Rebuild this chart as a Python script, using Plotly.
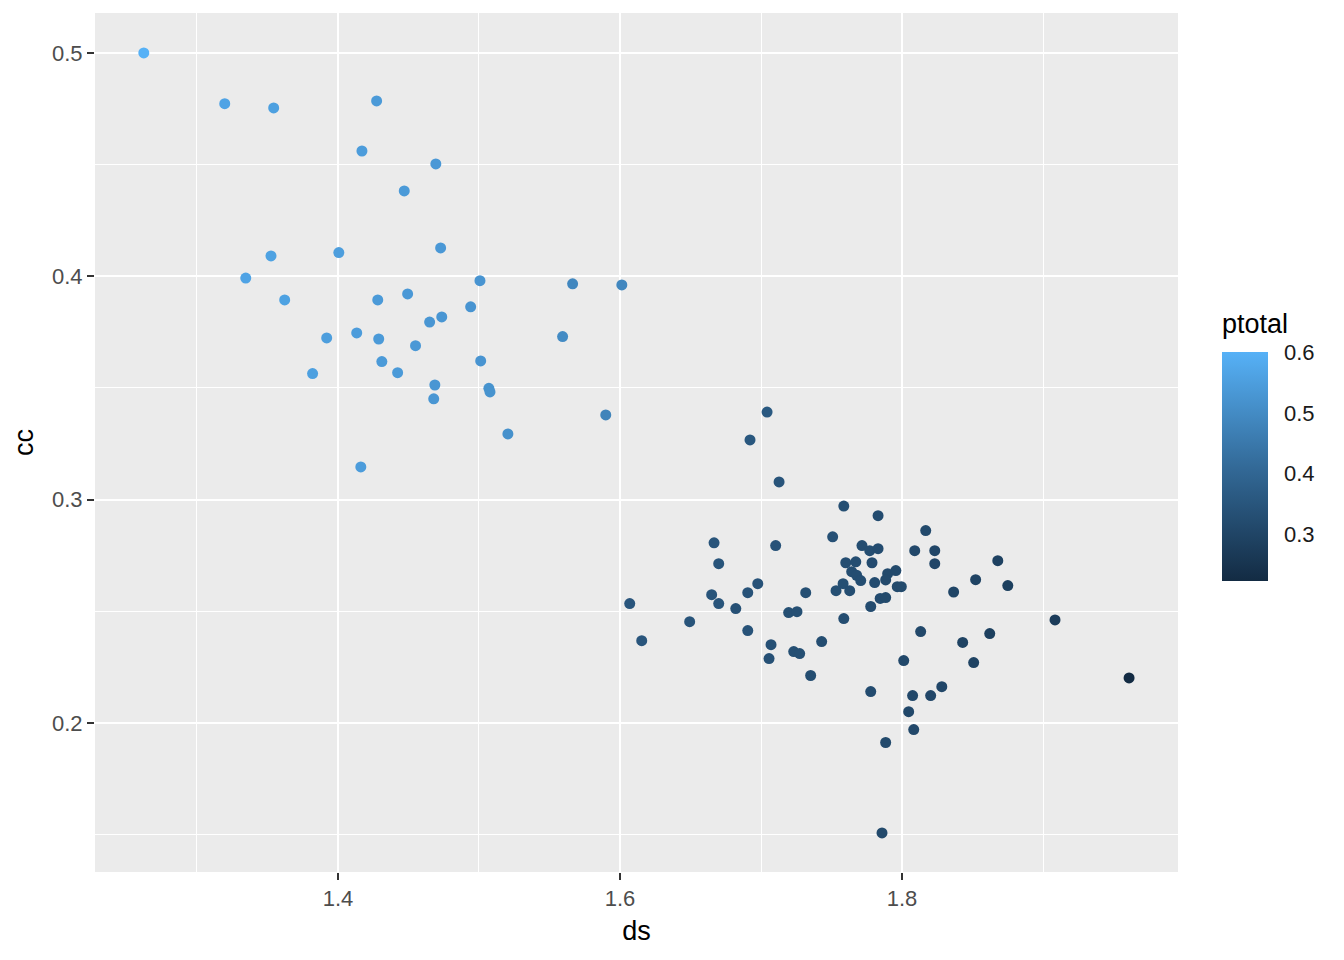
import plotly.graph_objects as go

ds = [1.2623, 1.3197, 1.3544, 1.4274, 1.4170, 1.4694, 1.4470, 1.4728, 1.3525, 1.4006,
      1.3346, 1.5007, 1.5664, 1.6013, 1.4494, 1.4282, 1.3622, 1.4941, 1.4736, 1.4650,
      1.4133, 1.3920, 1.4289, 1.5593, 1.4550, 1.5012, 1.4311, 1.4423, 1.3820, 1.4687,
      1.5070, 1.5078, 1.4679, 1.5899, 1.5205, 1.4162,
      1.7043, 1.6922, 1.7128, 1.7587, 1.7830, 1.7508, 1.8168, 1.6667, 1.7104, 1.7716,
      1.7771, 1.7830, 1.8090, 1.8232, 1.6700, 1.7601, 1.7672, 1.7787, 1.8232, 1.8679,
      1.7643, 1.7678, 1.7707, 1.7898, 1.7956, 1.7884, 1.6977, 1.7582, 1.7806, 1.8522,
      1.8750, 1.7966, 1.7995, 1.6906, 1.6650, 1.7317, 1.7532, 1.7629, 1.8366, 1.7845,
      1.7884, 1.6700, 1.6069, 1.6821, 1.7778, 1.6494, 1.7196, 1.7255, 1.7587, 1.9085,
      1.6154, 1.6906, 1.7430, 1.8132, 1.8622, 1.8430, 1.7071, 1.7232, 1.7274, 1.7057,
      1.8012, 1.8508, 1.7352, 1.9610, 1.7778, 1.8282, 1.8075, 1.8203, 1.8047, 1.8083,
      1.7884, 1.7858]

cc = [0.5000, 0.4773, 0.4754, 0.4785, 0.4561, 0.4503, 0.4382, 0.4127, 0.4091, 0.4106,
      0.3992, 0.3980, 0.3966, 0.3961, 0.3921, 0.3894, 0.3894, 0.3863, 0.3818, 0.3795,
      0.3746, 0.3724, 0.3719, 0.3730, 0.3689, 0.3621, 0.3618, 0.3568, 0.3564, 0.3513,
      0.3498, 0.3482, 0.3451, 0.3379, 0.3294, 0.3146,
      0.3392, 0.3267, 0.3079, 0.2971, 0.2928, 0.2833, 0.2861, 0.2806, 0.2794, 0.2794,
      0.2771, 0.2780, 0.2771, 0.2771, 0.2713, 0.2717, 0.2721, 0.2717, 0.2713, 0.2726,
      0.2677, 0.2661, 0.2637, 0.2668, 0.2682, 0.2640, 0.2623, 0.2623, 0.2628, 0.2641,
      0.2615, 0.2610, 0.2610, 0.2583, 0.2574, 0.2583, 0.2592, 0.2592, 0.2586, 0.2557,
      0.2561, 0.2534, 0.2534, 0.2512, 0.2521, 0.2453, 0.2494, 0.2498, 0.2467, 0.2461,
      0.2368, 0.2413, 0.2364, 0.2409, 0.2400, 0.2360, 0.2350, 0.2319, 0.2310, 0.2288,
      0.2279, 0.2270, 0.2212, 0.2201, 0.2140, 0.2162, 0.2122, 0.2122, 0.2050, 0.1970,
      0.1912, 0.1507]

ptotal = [0.600, 0.565, 0.555, 0.540, 0.545, 0.535, 0.540, 0.535, 0.560, 0.550,
          0.565, 0.525, 0.490, 0.490, 0.535, 0.540, 0.560, 0.525, 0.530, 0.530,
          0.545, 0.550, 0.540, 0.500, 0.535, 0.525, 0.540, 0.540, 0.555, 0.530,
          0.520, 0.520, 0.530, 0.480, 0.515, 0.545,
          0.360, 0.355, 0.345, 0.330, 0.320, 0.335, 0.315, 0.345, 0.340, 0.325,
          0.325, 0.320, 0.310, 0.305, 0.345, 0.325, 0.325, 0.320, 0.305, 0.290,
          0.325, 0.325, 0.325, 0.315, 0.315, 0.315, 0.340, 0.330, 0.320, 0.295,
          0.285, 0.315, 0.315, 0.340, 0.345, 0.330, 0.330, 0.325, 0.300, 0.320,
          0.315, 0.345, 0.350, 0.335, 0.320, 0.345, 0.330, 0.330, 0.325, 0.275,
          0.350, 0.340, 0.325, 0.310, 0.285, 0.295, 0.335, 0.330, 0.330, 0.335,
          0.310, 0.295, 0.325, 0.223, 0.320, 0.305, 0.310, 0.305, 0.310, 0.310,
          0.315, 0.315]

x_ticks = [1.4, 1.6, 1.8]
y_ticks = [0.2, 0.3, 0.4, 0.5]
cb_ticks = [0.3, 0.4, 0.5, 0.6]

CMIN, CMAX = 0.223, 0.601
colorscale = [[0.0, "#132B43"], [0.5, "#336A98"], [1.0, "#56B1F7"]]

# page has an 8px body margin, so shift by -8px
OFF = 8
ML, MR, MT, MB = 95 - OFF, 1344 - 1178 + OFF, 13 - OFF, 960 - 872 + OFF
PW = 1344 - ML - MR
PH = 960 - MT - MB

# colorbar geometry in reference pixels
CB_LEFT, CB_W, CB_TOP, CB_BOT = 1222, 46, 352, 581


def px_x(px):
    return (px - 95) / PW


def px_y(py):
    return (872 - py) / PH


fig = go.Figure(go.Scatter(
    x=ds, y=cc, mode="markers",
    marker=dict(
        size=11, color=ptotal, colorscale=colorscale, cmin=CMIN, cmax=CMAX,
        line=dict(width=0),
        colorbar=dict(
            x=px_x(CB_LEFT), xanchor="left",
            y=px_y((CB_TOP + CB_BOT) / 2), yanchor="middle",
            thickness=CB_W, thicknessmode="pixels",
            len=(CB_BOT - CB_TOP) / PH, lenmode="fraction",
            tickvals=cb_ticks, ticktext=[f"{v:.1f}" for v in cb_ticks],
            ticks="outside", tickcolor="white", ticklen=12, tickwidth=1,
            tickfont=dict(size=22, color="#1A1A1A"),
            outlinewidth=0, xpad=0, ypad=0,
        ),
    ),
    showlegend=False,
))

# white tick marks drawn on both edges of the colour bar (ggplot style)
for v in cb_ticks[:-1]:
    py = CB_BOT - (v - CMIN) / (CMAX - CMIN) * (CB_BOT - CB_TOP)
    for x0, x1 in [(CB_LEFT, CB_LEFT + 9), (CB_LEFT + CB_W - 9, CB_LEFT + CB_W)]:
        fig.add_shape(type="line", xref="paper", yref="paper",
                      x0=px_x(x0), x1=px_x(x1), y0=px_y(py), y1=px_y(py),
                      line=dict(color="white", width=1.5), layer="above")

axis_common = dict(
    showgrid=True, gridcolor="white", gridwidth=2.2, zeroline=False,
    showline=False, ticks="outside", ticklen=7, tickwidth=2, tickcolor="#333333",
    tickfont=dict(size=22, color="#4D4D4D"),
)

fig.update_xaxes(
    **axis_common,
    range=[1.2277, 1.9957], tickvals=x_ticks, ticktext=[f"{v:.1f}" for v in x_ticks],
    minor=dict(dtick=0.1, tick0=1.3, showgrid=True, gridcolor="white", gridwidth=1, ticks=""),
    title=dict(text="ds", font=dict(size=27, color="#000000"), standoff=10),
)
fig.update_yaxes(
    **axis_common,
    range=[0.1332, 0.5179], tickvals=y_ticks, ticktext=[f"{v:.1f}" for v in y_ticks],
    minor=dict(dtick=0.05, tick0=0.15, showgrid=True, gridcolor="white", gridwidth=1, ticks=""),
    title=dict(text="cc", font=dict(size=27, color="#000000"), standoff=10),
)

fig.add_annotation(
    text="ptotal", showarrow=False,
    xref="paper", yref="paper",
    x=px_x(1222), xanchor="left",
    y=px_y(324), yanchor="middle",
    font=dict(size=27, color="#000000"), xshift=-2,
)

fig.update_layout(
    width=1344, height=960,
    margin=dict(l=ML, r=MR, t=MT, b=MB),
    plot_bgcolor="#EBEBEB", paper_bgcolor="white",
    font=dict(family="Liberation Sans, Arial, sans-serif"),
)

fig.write_html("out.html")
